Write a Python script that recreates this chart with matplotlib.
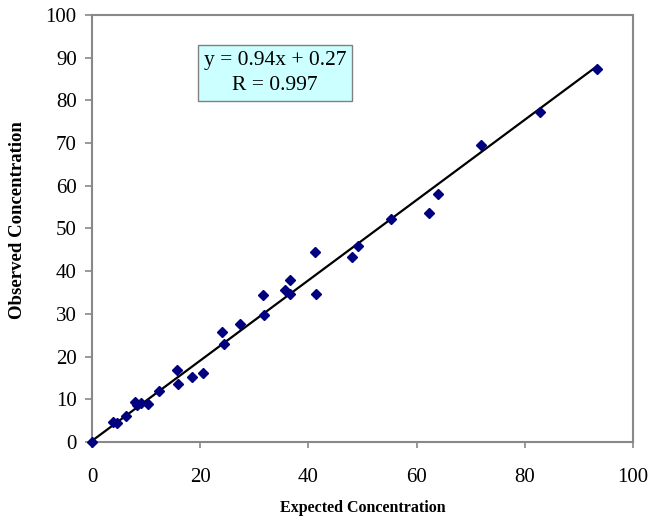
import matplotlib.pyplot as plt
import numpy as np

# values
expected = [0.0, 3.9, 4.7, 6.3, 7.9, 8.4, 9.0, 10.4, 12.4, 15.8, 15.9, 18.4, 20.6,
            24.0, 24.4, 27.4, 31.7, 31.8, 35.7, 36.6, 36.6, 41.2, 41.4, 48.0, 49.2,
            55.2, 62.2, 64.0, 71.9, 82.9, 93.3]
observed = [0.0, 4.8, 4.5, 6.1, 9.4, 8.7, 9.2, 8.9, 12.0, 16.9, 13.6, 15.3, 16.1,
            25.8, 23.0, 27.6, 34.4, 29.7, 35.6, 37.9, 34.7, 44.6, 34.7, 43.3, 45.9,
            52.2, 53.6, 58.1, 69.6, 77.4, 87.3]
slope = 0.94
intercept = 0.27
r_value = 0.997
ticks = [0, 10, 20, 30, 40, 50, 60, 70, 80, 90, 100]
xticks = [0, 20, 40, 60, 80, 100]

plt.rcParams['font.family'] = ['Liberation Serif', 'DejaVu Serif']

fig = plt.figure(figsize=(6.52, 5.19), dpi=100)
ax = fig.add_axes([92 / 652, 1 - 442 / 519, 541 / 652, 427 / 519])

xfit = np.array([0, max(expected)])
ax.plot(xfit, slope * xfit + intercept, color='black', lw=1.6, zorder=2)
ax.plot(expected, observed, 'D', color='#000080', ms=5.5, mec='#000080', zorder=3, clip_on=False)

ax.set_xlim(0, 100)
ax.set_ylim(0, 100)
ax.set_xticks(xticks)
ax.set_yticks(ticks)
ax.tick_params(axis='x', direction='out', length=4.5, width=1.2, color='#888888',
               labelsize=15, pad=14)
ax.tick_params(axis='y', direction='out', length=5, width=1.2, color='#888888',
               labelsize=15, pad=6)

for s in ax.spines.values():
    s.set_color('#888888')
    s.set_linewidth(1.5)

ax.set_xlabel('Expected Concentration', fontsize=11.5, fontweight='bold', va='center')
ax.set_ylabel('Observed Concentration', fontsize=13.5, fontweight='bold', va='center')
ax.xaxis.set_label_coords(0.5, -0.155)
ax.yaxis.set_label_coords(-0.137, 0.52)

ax.text(0.338, 0.864, 'y = 0.94x + 0.27\nR = %.3f' % r_value, transform=ax.transAxes,
        ha='center', va='center', fontsize=15.5, linespacing=1.4,
        bbox=dict(boxstyle='square,pad=0.28', fc='#CCFFFF', ec='#808080', lw=1.0))

fig.savefig('out.png', dpi=100)
